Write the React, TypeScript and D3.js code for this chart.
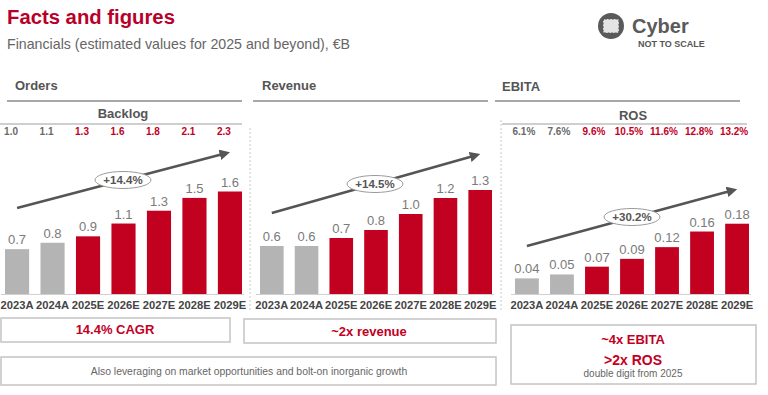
import React from 'react';
import { scaleBand, scaleLinear, format } from 'd3';

// categories and values
const years = ['2023A', '2024A', '2025E', '2026E', '2027E', '2028E', '2029E'];
const backlog = [1.0, 1.1, 1.3, 1.6, 1.8, 2.1, 2.3];
const orders = [0.7, 0.8, 0.9, 1.1, 1.3, 1.5, 1.6];
const revenue = [0.6, 0.6, 0.7, 0.8, 1.0, 1.2, 1.3];
const ebita = [0.04, 0.05, 0.07, 0.09, 0.12, 0.16, 0.18];
const ros = [6.1, 7.6, 9.6, 10.5, 11.6, 12.8, 13.2];
const growth = ['+14.4%', '+14.5%', '+30.2%'];

const RED = '#c2001f';
const GREY_BAR = '#b4b4b4';
const TEXT = '#555';
const FONT = '"Liberation Sans", Arial, sans-serif';

const BASE = 294;
const PLOT_TOP = 130;

const panels = [
  {
    title: 'Orders', values: orders, fmt: format('.1f'), yMax: 2.56,
    x0: 5, x1: 242, titleX: 15, titleY: 90, rule: [7, 242],
    arrowY: [208, 152], pill: [123, 180],
  },
  {
    title: 'Revenue', values: revenue, fmt: format('.1f'), yMax: 2.05,
    x0: 260, x1: 492, titleX: 262, titleY: 90, rule: [253, 488],
    arrowY: [213, 154], pill: [375, 184],
  },
  {
    title: 'EBITA', values: ebita, fmt: format('.2f'), yMax: 0.42,
    x0: 515, x1: 749, titleX: 502, titleY: 91, rule: [495, 740],
    arrowY: [246, 189], pill: [632, 217],
  },
];

function Panel({ p, i }) {
  const x = scaleBand().domain(years).range([p.x0, p.x1]).paddingInner(0.32).paddingOuter(0);
  const y = scaleLinear().domain([0, p.yMax]).range([BASE, PLOT_TOP]);
  const c = (d) => x(d) + x.bandwidth() / 2;
  return (
    <g>
      <text x={p.titleX} y={p.titleY} fontSize={13} fontWeight="bold" fill={TEXT}>{p.title}</text>
      <line x1={p.rule[0]} x2={p.rule[1]} y1={101} y2={101} stroke="#8a8a8a" strokeWidth={1.5} />
      <line x1={p.x0 - 4} x2={p.x1 + 2} y1={BASE + 0.5} y2={BASE + 0.5} stroke="#d0d0d0" strokeWidth={1} />
      {p.values.map((v, j) => (
        <g key={years[j]}>
          <rect x={x(years[j])} y={y(v)} width={x.bandwidth()} height={BASE - y(v)}
            fill={years[j].endsWith('E') ? RED : GREY_BAR} />
          <text x={c(years[j])} y={y(v) - 5} textAnchor="middle" fontSize={13} fill="#7a7a7a">{p.fmt(v)}</text>
          <text x={c(years[j])} y={309} textAnchor="middle" fontSize={11.2} fontWeight="bold" fill="#454545">{years[j]}</text>
        </g>
      ))}
      <line x1={c(years[0])} y1={p.arrowY[0]} x2={c(years[6]) - 5} y2={p.arrowY[1] + 1.5}
        stroke="#555" strokeWidth={2.5} markerEnd="url(#head)" />
      <ellipse cx={p.pill[0]} cy={p.pill[1]} rx={28} ry={8.5} fill="#fff" stroke="#9a9a9a" strokeWidth={1} />
      <text x={p.pill[0]} y={p.pill[1] + 4} textAnchor="middle" fontSize={11.5} fontWeight="bold" fill={TEXT}>{growth[i]}</text>
    </g>
  );
}

// small strip of figures above a chart (Backlog / ROS)
function TopRow({ label, values, fmt, x0, x1, labelX, labelY, rule, dx }) {
  const x = scaleBand().domain(years).range([x0, x1]).paddingInner(0.32).paddingOuter(0);
  return (
    <g>
      <text x={labelX} y={labelY} textAnchor="middle" fontSize={13} fontWeight="bold" fill={TEXT}>{label}</text>
      <line x1={rule[0]} x2={rule[1]} y1={124} y2={124} stroke="#cfcfcf" strokeWidth={2} />
      {values.map((v, j) => (
        <text key={years[j]} x={x(years[j]) + x.bandwidth() / 2 + dx} y={135} textAnchor="middle"
          fontSize={10} fontWeight="bold" fill={years[j].endsWith('E') ? RED : '#6a6a6a'}>{fmt(v)}</text>
      ))}
    </g>
  );
}

function Box({ x, y, w, h }) {
  return <rect x={x} y={y} width={w} height={h} fill="#fff" stroke="#c4c4c4" strokeWidth={1.5} />;
}

export default function App() {
  return (
    <div style={{ position: 'absolute', left: 0, top: 0 }}>
      <svg width={768} height={395} style={{ display: 'block', fontFamily: FONT }}>
        <defs>
          <marker id="head" viewBox="0 0 10 10" refX={5} refY={5} markerWidth={4.2} markerHeight={4.2} orient="auto">
            <path d="M0,0 L10,5 L0,10 z" fill="#555" />
          </marker>
        </defs>
        <rect width={768} height={395} fill="#fff" />

        <text x={7} y={24} fontSize={20.3} fontWeight="bold" fill="#b8002a">Facts and figures</text>
        <text x={7} y={49} fontSize={14.2} fill="#666">Financials (estimated values for 2025 and beyond), €B</text>

        {/* logo */}
        <circle cx={611} cy={26} r={13} fill="#5a5a5a" />
        <rect x={603} y={19} width={16} height={14} rx={2} fill="#e4e4e4" stroke="#5a5a5a" strokeWidth={1.2} strokeDasharray="2 1.5" />
        <text x={632} y={33} fontSize={20} fontWeight="bold" fill="#5a5a5a">Cyber</text>
        <text x={638} y={47} fontSize={9} fontWeight="bold" fill="#555">NOT TO SCALE</text>

        <line x1={250} x2={250} y1={128} y2={312} stroke="#c8c8c8" strokeWidth={1} strokeDasharray="2 2" />
        <line x1={501} x2={501} y1={120} y2={312} stroke="#c8c8c8" strokeWidth={1} strokeDasharray="2 2" />

        <TopRow label="Backlog" values={backlog} fmt={format('.1f')} x0={5} x1={242}
          labelX={123} labelY={118} rule={[0, 242]} dx={-6} />
        <TopRow label="ROS" values={ros} fmt={(v) => format('.1f')(v) + '%'} x0={515} x1={749}
          labelX={633} labelY={120} rule={[502, 747]} dx={-3} />

        {panels.map((p, i) => <Panel key={p.title} p={p} i={i} />)}

        <Box x={1} y={318} w={229} h={24} />
        <text x={115} y={334} textAnchor="middle" fontSize={13} fontWeight="bold" fill={RED}>14.4% CAGR</text>
        <Box x={244} y={319} w={252} h={24} />
        <text x={369} y={336} textAnchor="middle" fontSize={13} fontWeight="bold" fill={RED}>~2x revenue</text>
        <Box x={1} y={357} w={495} h={28} />
        <text x={249} y={375} textAnchor="middle" fontSize={10.4} fill="#666">Also leveraging on market opportunities and bolt-on inorganic growth</text>
        <Box x={511} y={325} w={245} h={59} />
        <text x={633} y={344} textAnchor="middle" fontSize={13} fontWeight="bold" fill={RED}>~4x EBITA</text>
        <text x={633} y={365} textAnchor="middle" fontSize={14} fontWeight="bold" fill={RED}>&gt;2x ROS</text>
        <text x={633} y={377} textAnchor="middle" fontSize={10} fill="#666">double digit from 2025</text>
      </svg>
    </div>
  );
}
